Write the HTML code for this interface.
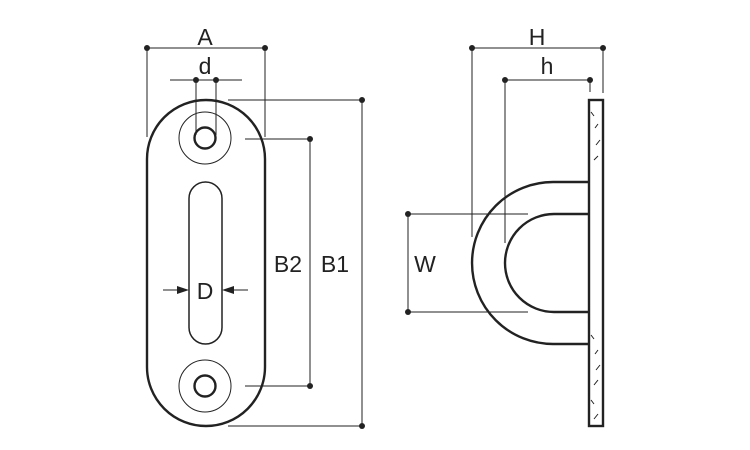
<!DOCTYPE html>
<html><head><style>body{margin:0;background:#fff}svg{display:block}</style></head><body>
<svg width="750" height="450" viewBox="0 0 750 450" xmlns="http://www.w3.org/2000/svg" font-family="Liberation Sans, sans-serif" font-size="23" fill="none">
<g stroke="#222" stroke-width="1">
<!-- A -->
<line x1="147" y1="48" x2="265" y2="48"/><line x1="147" y1="48" x2="147" y2="137"/><line x1="265" y1="48" x2="265" y2="137"/>
<!-- d -->
<line x1="170" y1="80" x2="242" y2="80"/><line x1="196" y1="80" x2="196" y2="135"/><line x1="216" y1="80" x2="216" y2="135"/>
<!-- B1 -->
<line x1="228" y1="100" x2="362" y2="100"/><line x1="228" y1="426" x2="362" y2="426"/><line x1="362" y1="100" x2="362" y2="426"/>
<!-- B2 -->
<line x1="245" y1="139" x2="310" y2="139"/><line x1="245" y1="386" x2="310" y2="386"/><line x1="310" y1="139" x2="310" y2="386"/>
<!-- D -->
<line x1="163" y1="290" x2="180" y2="290"/><line x1="230" y1="290" x2="248" y2="290"/>
<!-- H h -->
<line x1="472" y1="48" x2="603" y2="48"/><line x1="472" y1="48" x2="472" y2="237"/><line x1="603" y1="48" x2="603" y2="93"/>
<line x1="505" y1="80" x2="590" y2="80"/><line x1="505" y1="80" x2="505" y2="243"/><line x1="590" y1="80" x2="590" y2="92"/>
<!-- W -->
<line x1="408" y1="214" x2="528" y2="214"/><line x1="408" y1="312" x2="528" y2="312"/><line x1="408" y1="214" x2="408" y2="312"/>
<!-- rings -->
<circle cx="205" cy="138" r="26"/><circle cx="205" cy="386" r="26"/>
<!-- hatch -->
<path d="M591 112l3 4M598 124l-3 4M600 140l-4 5M598 156l-4 4M591 335l3 4M598 350l-3 4M600 365l-4 5M598 380l-4 5M591 400l3 4M598 414l-4 5"/>
</g>
<g stroke="#222" stroke-width="2.4">
<rect x="147" y="100" width="118" height="326" rx="59"/>
<circle cx="205" cy="138" r="10.5"/><circle cx="205" cy="386" r="10.5"/>
</g>
<rect x="189" y="182" width="33" height="162" rx="16.5" stroke="#222" stroke-width="1.5"/>
<g stroke="#222" stroke-width="2.4">
<rect x="589" y="100" width="14" height="326"/>
<path d="M589 182H553A81 81 0 0 0 553 344H589"/>
<path d="M589 214H554A49 49 0 0 0 554 312H589"/>
</g>
<g fill="#222">
<circle cx="147" cy="48" r="3"/><circle cx="265" cy="48" r="3"/>
<circle cx="196" cy="80" r="3"/><circle cx="216" cy="80" r="3"/>
<circle cx="362" cy="100" r="3"/><circle cx="362" cy="426" r="3"/>
<circle cx="310" cy="139" r="3"/><circle cx="310" cy="386" r="3"/>
<circle cx="472" cy="48" r="3"/><circle cx="603" cy="48" r="3"/>
<circle cx="505" cy="80" r="3"/><circle cx="590" cy="80" r="3"/>
<circle cx="408" cy="214" r="3"/><circle cx="408" cy="312" r="3"/>
<path d="M189 290l-12-4v8z M222 290l12-4v8z"/>
<g stroke="none">
<text x="205" y="45" text-anchor="middle">A</text>
<text x="205" y="74" text-anchor="middle">d</text>
<text x="205" y="299" text-anchor="middle">D</text>
<text x="288" y="272" text-anchor="middle">B2</text>
<text x="335" y="272" text-anchor="middle">B1</text>
<text x="425" y="272" text-anchor="middle">W</text>
<text x="537" y="45" text-anchor="middle">H</text>
<text x="547" y="74" text-anchor="middle">h</text>
</g>
</g>
</svg>
</body></html>
